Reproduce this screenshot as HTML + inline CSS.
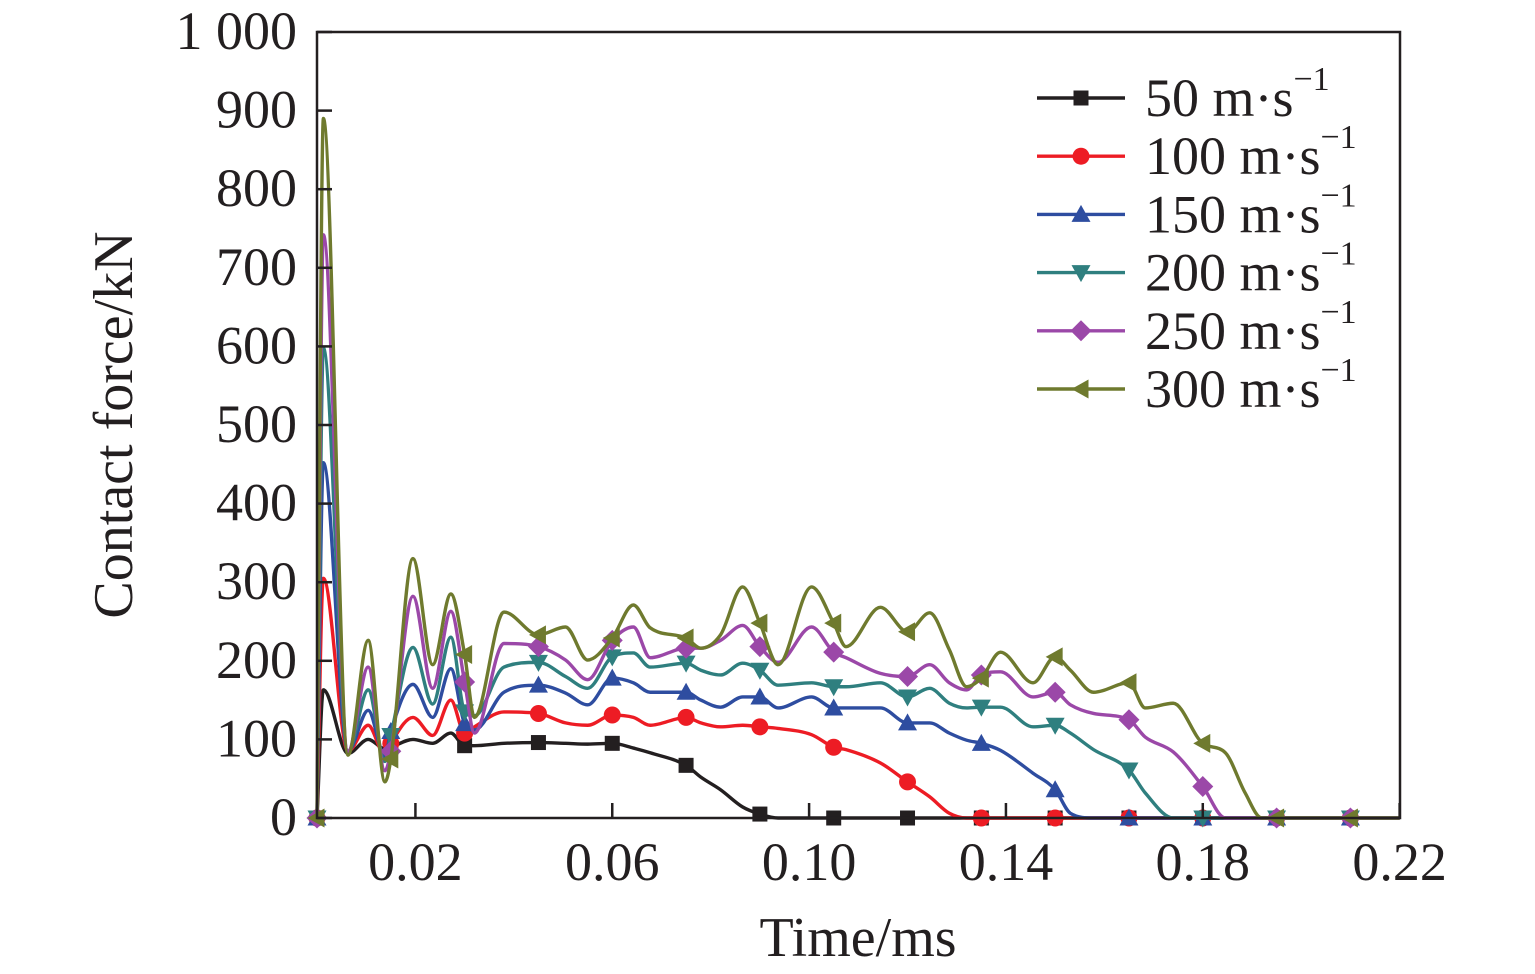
<!DOCTYPE html>
<html><head><meta charset="utf-8"><style>
html,body{margin:0;padding:0;background:#fff;}
svg{display:block;font-family:"Liberation Serif",serif;}
</style></head><body>
<svg id="chart" width="1535" height="974" viewBox="0 0 1535 974" xmlns="http://www.w3.org/2000/svg">
<g id="plot"></g>
<g id="axes"></g>
<g id="legend"></g>
</svg>
<script>
const times=[0,0.0013,0.0063,0.0104,0.0138,0.015,0.0195,0.0235,0.0272,0.03,0.032,0.038,0.045,0.0505,0.055,0.06,0.0643,0.0677,0.075,0.078,0.082,0.0865,0.09,0.0937,0.1005,0.105,0.1075,0.1145,0.12,0.1245,0.1285,0.132,0.135,0.1389,0.1455,0.15,0.1531,0.1578,0.165,0.1683,0.174,0.18,0.1846,0.1886,0.192,0.195,0.21,0.22];
const v50=[0,163,82,100,88,90,100,95,108,92,92,95,96,95,94,95,89,83,67,52,36,14,5,0,0,0,0,0,0,0,0,0,0,0,0,0,0,0,0,0,0,0,0,0,0,0,0,0];
const v100=[0,305,85,118,80,95,128,105,150,108,116,135,133,121,118,131,128,118,128,121,116,118,116,114,106,90,87,70,46,27,6,0,0,0,0,0,0,0,0,0,0,0,0,0,0,0,0,0];
const v150=[0,452,85,137,78,110,170,128,190,120,112,160,169,159,144,178,172,160,160,150,141,154,154,140,154,140,140,140,121,121,108,99,95,86,57,36,6,0,0,0,0,0,0,0,0,0,0,0];
const v200=[0,598,85,163,72,105,217,145,230,135,130,192,198,180,165,205,210,192,197,188,182,197,188,169,172,167,167,172,154,165,146,140,141,141,116,118,108,87,61,32,0,0,0,0,0,0,0,0];
const v250=[0,742,85,192,60,85,282,165,263,173,108,222,218,201,176,226,243,204,216,216,226,245,218,198,243,211,204,184,180,195,172,163,182,186,154,160,144,133,125,103,84,40,0,0,0,0,0,0];
const v300=[0,890,80,226,46,75,330,195,285,208,128,262,233,243,201,229,271,242,229,216,233,294,248,195,294,248,218,268,237,261,214,167,178,211,172,205,188,160,172,140,146,95,83,32,0,0,0,0];
const markerTimes=[0,0.015,0.03,0.045,0.06,0.075,0.09,0.105,0.12,0.135,0.15,0.165,0.18,0.195,0.21];
const seriesNames=["50 m·s","100 m·s","150 m·s","200 m·s","250 m·s","300 m·s"];
const yTicks=[0,100,200,300,400,500,600,700,800,900,1000];
const yTickLabels=["0","100","200","300","400","500","600","700","800","900","1 000"];
const xTicks=[0.02,0.06,0.10,0.14,0.18,0.22];
const xTickLabels=["0.02","0.06","0.10","0.14","0.18","0.22"];

const NS="http://www.w3.org/2000/svg";
const L=317,R=1400,T=32,B=818;
const X=t=>L+t*4921;
const Y=v=>B-v*(B-T)/1000;
function mk(tag,attrs,parent){const e=document.createElementNS(NS,tag);for(const k in attrs)e.setAttribute(k,attrs[k]);parent.appendChild(e);return e;}
const colors=["#231f20","#ed1c24","#2e4da0","#2f7f7f","#9b48a8","#6f7a2e"];
const shapes=["square","circle","tri-up","tri-down","diamond","tri-left"];
const data=[v50,v100,v150,v200,v250,v300];

function monotone(xs,ys){const n=xs.length,d=[],m=new Array(n);
 for(let i=0;i<n-1;i++)d.push((ys[i+1]-ys[i])/(xs[i+1]-xs[i]));
 m[0]=d[0];m[n-1]=d[n-2];
 for(let i=1;i<n-1;i++){m[i]=(d[i-1]*d[i]<=0)?0:(d[i-1]+d[i])/2;}
 for(let i=0;i<n-1;i++){if(d[i]===0){m[i]=0;m[i+1]=0;continue;}const a=m[i]/d[i],b=m[i+1]/d[i],s=a*a+b*b;if(s>9){const t=3/Math.sqrt(s);m[i]=t*a*d[i];m[i+1]=t*b*d[i];}}
 return m;}
function evalAt(xs,ys,m,x){let i=0;while(i<xs.length-2&&x>xs[i+1])i++;const h=xs[i+1]-xs[i],t=(x-xs[i])/h;
 const h00=2*t*t*t-3*t*t+1,h10=t*t*t-2*t*t+t,h01=-2*t*t*t+3*t*t,h11=t*t*t-t*t;
 return h00*ys[i]+h10*h*m[i]+h01*ys[i+1]+h11*h*m[i+1];}
function pathD(xs,ys){const m=monotone(xs,ys);let d="M"+X(xs[0])+","+Y(ys[0]);
 for(let i=0;i<xs.length-1;i++){const h=xs[i+1]-xs[i];
  d+=" C"+X(xs[i]+h/3)+","+Y(ys[i]+m[i]*h/3)+" "+X(xs[i+1]-h/3)+","+Y(ys[i+1]-m[i+1]*h/3)+" "+X(xs[i+1])+","+Y(ys[i+1]);}
 return d;}
function marker(shape,cx,cy,color,parent){const s=8.5;let e;
 if(shape==="square")e=mk("rect",{x:cx-s+1,y:cy-s+1,width:2*s-2,height:2*s-2,fill:color},parent);
 else if(shape==="circle")e=mk("circle",{cx:cx,cy:cy,r:s,fill:color},parent);
 else {let p;
  if(shape==="tri-up")p=[[cx,cy-s-1],[cx+s+1,cy+s-1],[cx-s-1,cy+s-1]];
  else if(shape==="tri-down")p=[[cx,cy+s+1],[cx+s+1,cy-s+1],[cx-s-1,cy-s+1]];
  else if(shape==="diamond")p=[[cx,cy-s-2],[cx+s+2,cy],[cx,cy+s+2],[cx-s-2,cy]];
  else p=[[cx-s-1,cy],[cx+s-1,cy-s-1],[cx+s-1,cy+s+1]];
  e=mk("polygon",{points:p.map(q=>q.join(",")).join(" "),fill:color},parent);}
 return e;}

const plot=document.getElementById("plot");
data.forEach((vals,si)=>{
 const g=mk("g",{},plot);
 
 
 const p=mk("path",{d:pathD(times,vals),fill:"none",stroke:colors[si],"stroke-width":3.4,"stroke-linejoin":"round"},g);
 
 
 const m=monotone(times,vals);
 markerTimes.forEach(t=>{const v=Math.max(0,evalAt(times,vals,m,t));
  const e=marker(shapes[si],X(t),Y(v),colors[si],g);
  
  });
});

const axes=document.getElementById("axes");
const frame=mk("rect",{x:L,y:T,width:R-L,height:B-T,fill:"none",stroke:"#231f20","stroke-width":2.5},axes);

yTicks.forEach((v,i)=>{const y=Y(v);
 const t=mk("line",{x1:L,x2:L+15,y1:y,y2:y,stroke:"#231f20","stroke-width":2.5},axes);
 
 const tx=mk("text",{x:297,y:y+17,"text-anchor":"end","font-size":54,fill:"#231f20"},axes);
 tx.textContent=yTickLabels[i];
 });
xTicks.forEach((v,i)=>{const x=X(v);
 const t=mk("line",{x1:x,x2:x,y1:B,y2:B-15,stroke:"#231f20","stroke-width":2.5},axes);
 
 const tx=mk("text",{x:x,y:880,"text-anchor":"middle","font-size":54,fill:"#231f20"},axes);
 tx.textContent=xTickLabels[i];
 });
const xt=mk("text",{x:858,y:956,"text-anchor":"middle","font-size":56,fill:"#231f20"},axes);
xt.textContent="Time/ms";
const yt=mk("text",{x:0,y:0,"text-anchor":"middle","font-size":56,fill:"#231f20",transform:"translate(132,425) rotate(-90)"},axes);
yt.textContent="Contact force/kN";

const legend=document.getElementById("legend");
seriesNames.forEach((name,i)=>{const y=98+i*58.2;
 const g=mk("g",{},legend);
 
 mk("line",{x1:1037,x2:1125,y1:y,y2:y,stroke:colors[i],"stroke-width":3.4},g);
 marker(shapes[i],1081,y,colors[i],g);
 const tx=mk("text",{x:1145,y:y+18,"font-size":54,fill:"#231f20"},g);
 tx.textContent=name;
 const sup=mk("tspan",{dy:-26,"font-size":34},tx);sup.textContent="−1";});
</script>
</body></html>
